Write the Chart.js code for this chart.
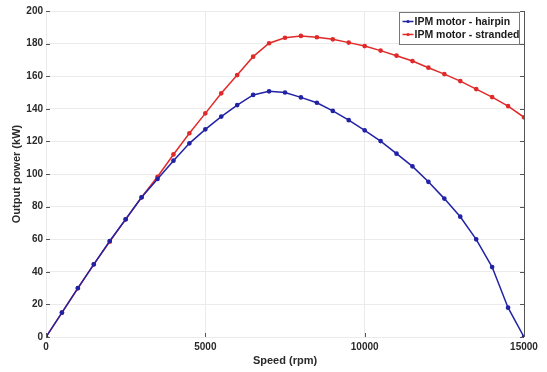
<!DOCTYPE html>
<html>
<head>
<meta charset="utf-8">
<script src="https://cdn.jsdelivr.net/npm/chart.js@4"></script>
<style>
  html, body { margin: 0; padding: 0; background: #fff; }
  #wrap { position: relative; width: 547px; height: 372px; }
</style>
</head>
<body>
<div id="wrap"><canvas id="chart" width="547" height="372"></canvas></div>
<script>
// Speed (rpm) and output power (kW)
const speed = [0, 500, 1000, 1500, 2000, 2500, 3000, 3500, 4000, 4500, 5000, 5500, 6000, 6500, 7000, 7500,
  8000, 8500, 9000, 9500, 10000, 10500, 11000, 11500, 12000, 12500, 13000, 13500, 14000, 14500, 15000];
const hairpin = [0, 15, 30, 44.6, 58.9, 72.2, 85.7, 97, 108.2, 118.8, 127.4, 135.2, 142.3, 148.5, 150.7, 150,
  147, 143.7, 138.7, 133, 126.8, 120.2, 112.5, 104.7, 95.2, 84.9, 73.8, 59.9, 42.9, 18, 0];
const stranded = [0, 14.9, 29.9, 44.6, 58.5, 72.2, 85.7, 98.3, 112, 125, 137.2, 149.5, 160.7, 172, 180.2, 183.6,
  184.7, 183.9, 182.6, 180.6, 178.5, 175.7, 172.6, 169.3, 165.2, 161.3, 157, 152.1, 147.2, 141.7, 134.8];
const seriesNames = ['IPM motor - hairpin', 'IPM motor - stranded'];
const xTicks = [0, 5000, 10000, 15000];
const yTicks = [0, 20, 40, 60, 80, 100, 120, 140, 160, 180, 200];

const BLUE = '#2222a6', RED = '#e02a2a';
const pts = ys => speed.map((s, i) => ({ x: s, y: ys[i] }));

// Matlab-achtige rand: rechter aslijn, inwaartse tickjes en legenda in de hoek.
const frame = {
  id: 'frame',
  afterDraw(c) {
    const ctx = c.ctx, a = c.chartArea;
    const xs = c.scales.x, ys = c.scales.y;
    ctx.save();
    ctx.strokeStyle = '#555';
    ctx.lineWidth = 1;
    ctx.beginPath();
    ctx.moveTo(a.right + 0.5, a.top);
    ctx.lineTo(a.right + 0.5, a.bottom);
    yTicks.forEach(v => {
      const y = Math.round(ys.getPixelForValue(v)) + 0.5;
      ctx.moveTo(a.left, y); ctx.lineTo(a.left + 4, y);
      ctx.moveTo(a.right, y); ctx.lineTo(a.right - 4, y);
    });
    xTicks.forEach(v => {
      const x = Math.round(xs.getPixelForValue(v)) + 0.5;
      ctx.moveTo(x, a.bottom); ctx.lineTo(x, a.bottom - 4);
    });
    ctx.stroke();

    // legenda
    const bx = 399.5, by = 12.5, bw = 120, bh = 32;
    ctx.fillStyle = '#fff';
    ctx.fillRect(bx, by, bw, bh);
    ctx.strokeStyle = '#777';
    ctx.strokeRect(bx, by, bw, bh);
    const colors = [BLUE, RED];
    ctx.font = 'bold 10.5px "Liberation Sans", Arial, sans-serif';
    ctx.textBaseline = 'middle';
    ctx.textAlign = 'left';
    seriesNames.forEach((name, i) => {
      const y = by + 9 + i * 13;
      ctx.strokeStyle = colors[i];
      ctx.lineWidth = 1.5;
      ctx.beginPath();
      ctx.moveTo(bx + 3, y); ctx.lineTo(bx + 14, y);
      ctx.stroke();
      ctx.fillStyle = colors[i];
      ctx.beginPath();
      ctx.arc(bx + 8.5, y, 1.6, 0, Math.PI * 2);
      ctx.fill();
      ctx.fillStyle = '#1a1a1a';
      ctx.fillText(name, bx + 15, y + 0.5);
    });
    ctx.restore();
  }
};

const tickFont = { family: '"Liberation Sans", Arial, sans-serif', size: 10, weight: 'bold' };
const titleFont = { family: '"Liberation Sans", Arial, sans-serif', size: 11, weight: 'bold' };

new Chart(document.getElementById('chart'), {
  type: 'line',
  plugins: [frame],
  data: {
    datasets: [
      { label: seriesNames[0], data: pts(hairpin), borderColor: BLUE, backgroundColor: BLUE,
        borderWidth: 1.5, pointRadius: 1.6, pointHoverRadius: 1.6, tension: 0 },
      { label: seriesNames[1], data: pts(stranded), borderColor: RED, backgroundColor: RED,
        borderWidth: 1.5, pointRadius: 1.6, pointHoverRadius: 1.6, tension: 0 }
    ]
  },
  options: {
    responsive: false,
    animation: false,
    layout: { padding: { left: 0, right: 23, top: 11, bottom: 0 } },
    plugins: { legend: { display: false }, tooltip: { enabled: false } },
    scales: {
      x: {
        type: 'linear', min: 0, max: 15000,
        afterBuildTicks: s => { s.ticks = xTicks.map(v => ({ value: v })); },
        afterFit: s => { s.height = 35; },
        ticks: { color: '#2a2a2a', font: tickFont, padding: 4, maxRotation: 0, callback: v => String(v) },
        grid: { color: '#ebebeb', drawTicks: false },
        border: { display: false },
        title: { display: true, text: 'Speed (rpm)', color: '#2a2a2a', font: titleFont, padding: { top: 0, bottom: 4 } }
      },
      y: {
        min: 0, max: 200,
        afterBuildTicks: s => { s.ticks = yTicks.map(v => ({ value: v })); },
        afterFit: s => { s.width = 46; },
        ticks: { color: '#2a2a2a', font: tickFont, padding: 3, callback: v => String(v) },
        grid: { color: '#ebebeb', drawTicks: false },
        border: { display: false },
        title: { display: true, text: 'Output power (kW)', color: '#2a2a2a', font: titleFont, padding: { top: 10, bottom: 0 } }
      }
    }
  }
});
</script>
</body>
</html>
